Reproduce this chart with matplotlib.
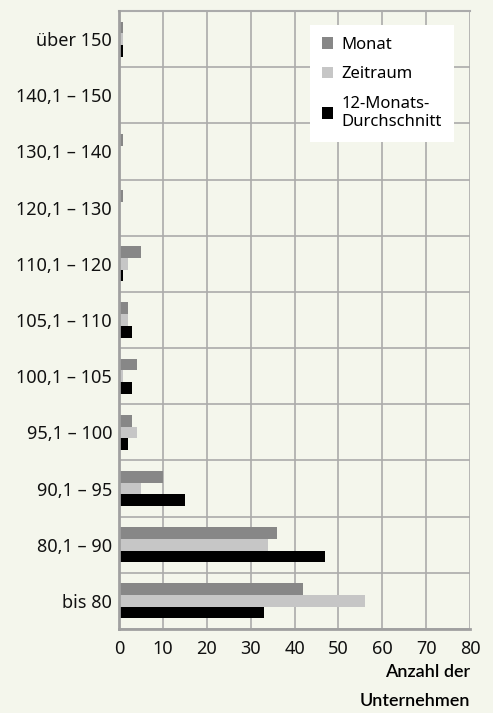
import numpy as np
import matplotlib.pyplot as plt

plt.rcParams['font.family'] = ['Noto Sans', 'DejaVu Sans']

# categories from bottom to top
categories = ["bis 80", "80,1 – 90", "90,1 – 95", "95,1 – 100", "100,1 – 105",
              "105,1 – 110", "110,1 – 120", "120,1 – 130", "130,1 – 140",
              "140,1 – 150", "über 150"]
monat = [42, 36, 10, 3, 4, 2, 5, 1, 1, 0, 1]
zeitraum = [56, 34, 5, 4, 1, 2, 2, 0, 0, 0, 1]
durchschnitt = [33, 47, 15, 2, 3, 3, 1, 0, 0, 0, 1]
series_labels = ["Monat", "Zeitraum", "12-Monats-\nDurchschnitt"]
xticks = np.arange(0, 81, 10)

bg = "#f4f6ec"
grid_col = "#ababab"

fig = plt.figure(figsize=(4.93, 7.13), dpi=100, facecolor=bg)
ax = fig.add_axes([119 / 493, 1 - 629 / 713, 351 / 493, 618 / 713])
ax.set_facecolor(bg)

y = np.arange(len(categories))
h = 0.208
ax.barh(y + h, monat, height=h, color="#878787", label=series_labels[0], zorder=3)
ax.barh(y, zeitraum, height=h, color="#c6c6c6", label=series_labels[1], zorder=3)
ax.barh(y - h, durchschnitt, height=h, color="#000000", label=series_labels[2], zorder=3)

ax.set_xlim(0, 80)
ax.set_ylim(-0.5, len(categories) - 0.5)
ax.set_xticks(xticks)
ax.set_xticklabels([str(v) for v in xticks], fontsize=13)
ax.set_yticks(y)
ax.set_yticklabels(categories, fontsize=13)
ax.set_yticks(np.arange(-0.5, len(categories), 1), minor=True)
ax.tick_params(axis="both", which="both", length=0, labelcolor="#111111")
ax.tick_params(axis="y", pad=5)
ax.tick_params(axis="x", pad=8)

ax.grid(axis="x", which="major", color=grid_col, linewidth=1.2, zorder=1)
ax.grid(axis="y", which="minor", color=grid_col, linewidth=1.2, zorder=1)

ax.spines["right"].set_visible(False)
ax.spines["top"].set_color(grid_col)
ax.spines["top"].set_linewidth(1.5)
for s in ["left", "bottom"]:
    ax.spines[s].set_color("#a0a0a0")
    ax.spines[s].set_linewidth(2)
    ax.spines[s].set_zorder(4)

leg = ax.legend(loc="upper left", bbox_to_anchor=(0.544, 0.977), borderaxespad=0,
                frameon=True, fancybox=False, facecolor="white", edgecolor="none",
                framealpha=1, fontsize=12, handlelength=0.7, handleheight=0.7,
                handletextpad=0.5, labelspacing=0.8, borderpad=0.7)
leg.set_zorder(5)
leg.get_frame().set_linewidth(0)

fig.text(470 / 493, 1 - 672 / 713, "Anzahl der", ha="right", va="center",
         fontsize=13, fontweight="semibold", family=["Lato", "DejaVu Sans"])
fig.text(470 / 493, 1 - 701 / 713, "Unternehmen", ha="right", va="center",
         fontsize=13, fontweight="semibold", family=["Lato", "DejaVu Sans"])

fig.savefig("out.png", dpi=100, facecolor=bg)
